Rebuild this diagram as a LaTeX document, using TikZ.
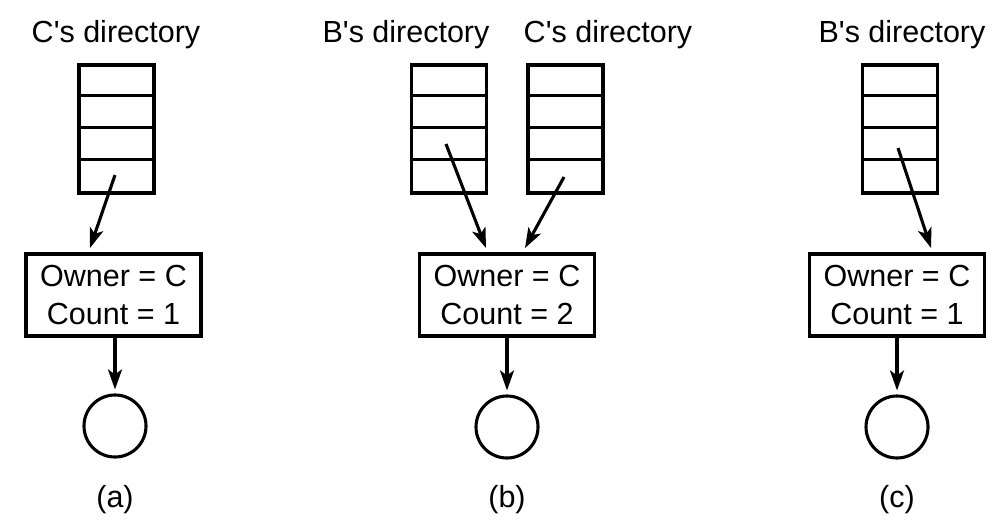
\documentclass[tikz,border=0pt]{standalone}
\usepackage{fontspec}
\setmainfont{Liberation Sans}
\usetikzlibrary{arrows.meta}
\begin{document}
\begin{tikzpicture}[x=1pt,y=-1pt,
  every node/.style={font=\fontsize{30.5}{38}\selectfont},
  lw/.style={line width=3.1pt},
  dirbox/.style={draw,lw,rectangle,minimum width=75pt,minimum height=128pt,inner sep=0pt},
  ownerbox/.style={draw,lw,rectangle,minimum width=175pt,minimum height=82pt,inner sep=0pt,align=center},
  obj/.style={draw,lw,circle,minimum size=62pt,inner sep=0pt},
  title/.style={anchor=base,inner sep=0pt},
  arr/.style={lw,-{Stealth[length=20pt,width=14pt,inset=5pt]}}
]
\useasboundingbox (0,0) rectangle (1008,532);
\newcommand{\rows}[1]{%
  \draw[lw] ([yshift=-32pt]#1.north west) -- ([yshift=-32pt]#1.north east);
  \draw[lw] ([yshift=-64pt]#1.north west) -- ([yshift=-64pt]#1.north east);
  \draw[lw] ([yshift=-96pt]#1.north west) -- ([yshift=-96pt]#1.north east);}

% ---------- (a) ----------
\node[title] (ta) at (116,43) {C\textquotesingle s directory};
\node[dirbox] (da) at (116.5,129) {};
\rows{da}
\node[ownerbox] (oa) at (113.5,295) {Owner = C\\Count = 1};
\node[obj] (ca) at (115,426) {};
\node[title] (la) at (115,507) {(a)};
\coordinate (sa) at (115,175);
\coordinate (ea) at (90,248);
\draw[arr] (sa) -- (ea);
\draw[arr,shorten >=4pt] (oa.south -| ca.north) -- (ca.north);

% ---------- (b) ----------
\node[title] (tb1) at (406,43) {B\textquotesingle s directory};
\node[title] (tb2) at (608,43) {C\textquotesingle s directory};
\node[dirbox] (db1) at (449,129) {};
\rows{db1}
\node[dirbox] (db2) at (565.5,129) {};
\rows{db2}
\node[ownerbox] (ob) at (507,295) {Owner = C\\Count = 2};
\node[obj] (cb) at (507,427) {};
\node[title] (lb) at (507,507) {(b)};
\coordinate (sb1) at (446,144);
\coordinate (eb1) at (486,248);
\coordinate (sb2) at (564,177);
\coordinate (eb2) at (525,248);
\draw[arr] (sb1) -- (eb1);
\draw[arr] (sb2) -- (eb2);
\draw[arr,shorten >=4pt] (ob.south -| cb.north) -- (cb.north);

% ---------- (c) ----------
\node[title] (tc) at (902,43) {B\textquotesingle s directory};
\node[dirbox] (dc) at (900,129) {};
\rows{dc}
\node[ownerbox] (oc) at (897,295) {Owner = C\\Count = 1};
\node[obj] (cc) at (897,427) {};
\node[title] (lc) at (897,507) {(c)};
\coordinate (sc) at (898,148);
\coordinate (ec) at (931,248);
\draw[arr] (sc) -- (ec);
\draw[arr,shorten >=4pt] (oc.south -| cc.north) -- (cc.north);
\end{tikzpicture}
\end{document}
